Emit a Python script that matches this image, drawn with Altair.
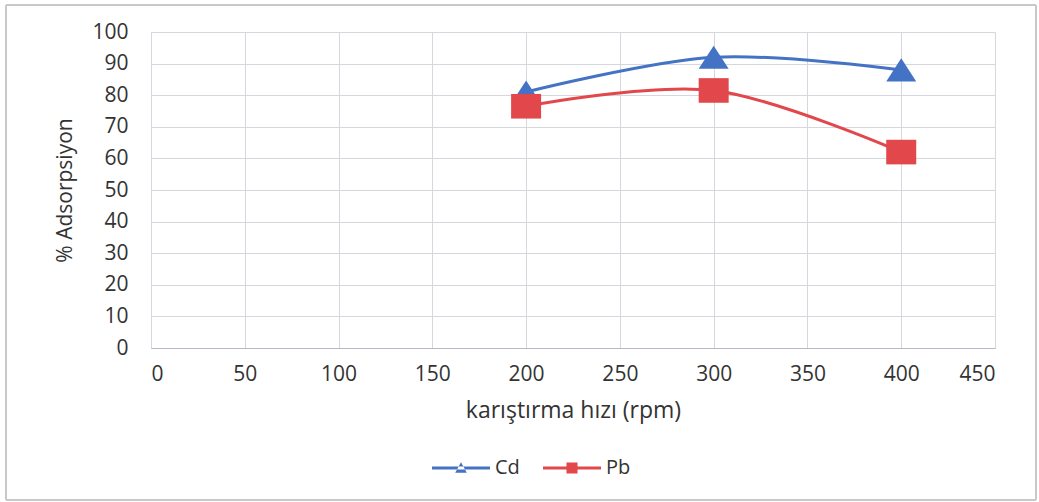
import altair as alt
import pandas as pd

speeds = [200, 300, 400]
cd_values = [81, 92, 88]
pb_values = [76.5, 81.5, 62]
series_names = ["Cd", "Pb"]
series_colors = ["#4472C4", "#E2474B"]

rows = []
for s, vals in zip(series_names, [cd_values, pb_values]):
    for x, v in zip(speeds, vals):
        rows.append({"speed": x, "value": v, "series": s})
df = pd.DataFrame(rows)

tri_path = "M-1,0.77L1,0.77L0,-0.77Z"
sq_path = "M-1,-0.82H1V0.82H-1Z"
leg_paths = {
    "Cd": "M-1,-0.05H1V0.05H-1Z M-0.2,0.16L0.2,0.16L0,-0.2Z",
    "Pb": "M-1,-0.05H1V0.05H-1Z M-0.19,-0.19H0.19V0.19H-0.19Z",
}
leg_x = {"Cd": 281, "Pb": 392}

FONT = "Open Sans"
TXT = "#333333"

xenc = alt.X("speed:Q", scale=alt.Scale(domain=[0, 450], nice=False),
             axis=alt.Axis(values=list(range(0, 451, 50)), title="karıştırma hızı (rpm)",
                           ticks=False, labelPadding=15, labelFontSize=21, labelColor=TXT,
                           titleFontSize=23, titleColor=TXT, titleFontWeight="normal",
                           titleX=422, titleY=62, titleBaseline="middle",
                           gridColor="#d6d6de", domainColor="#b8b8c4", labelOverlap=False))
yenc = alt.Y("value:Q", scale=alt.Scale(domain=[0, 100], nice=False),
             axis=alt.Axis(values=list(range(0, 101, 10)), title="% Adsorpsiyon",
                           ticks=False, labelPadding=23, labelFontSize=21, labelColor=TXT,
                           titleFontSize=21, titleColor=TXT, titleFontWeight="normal",
                           titleX=-86, titleY=158, titleBaseline="middle", titleAngle=-90,
                           gridColor="#d6d6de", domain=False, labelOverlap=False))

main_color = alt.Color("series:N", scale=alt.Scale(domain=series_names, range=series_colors), legend=None)

lines = alt.Chart(df).mark_line(interpolate="cardinal", strokeWidth=3).encode(
    x=xenc, y=yenc, color=main_color, detail="series:N")

points = alt.Chart(df).mark_point(filled=True, opacity=1, strokeWidth=1).encode(
    x=xenc, y=yenc,
    color=main_color,
    shape=alt.Shape("series:N", scale=alt.Scale(domain=series_names, range=[tri_path, sq_path]), legend=None),
    size=alt.value(900))

legend_layers = []
for s, c in zip(series_names, series_colors):
    lg = alt.Chart(df).transform_filter(alt.datum.series == s).mark_point(
        filled=True, opacity=0).encode(
        x=xenc, y=yenc,
        color=alt.Color("series:N", scale=alt.Scale(domain=[s], range=[c]),
                        legend=alt.Legend(title=None, orient="none", direction="horizontal",
                                          legendX=leg_x[s], legendY=407, symbolSize=3364,
                                          symbolType=leg_paths[s], symbolOpacity=1,
                                          symbolStrokeWidth=0, labelFontSize=20, labelColor=TXT,
                                          labelFont=FONT, labelOffset=5, padding=0)))
    legend_layers.append(lg)

frame = alt.Chart(df).mark_rect(fill=None, stroke="#c8c8c8", strokeWidth=1).encode(
    x=alt.value(-145), x2=alt.value(885), y=alt.value(-27), y2=alt.value(468))

chart = alt.layer(frame, lines, points, *legend_layers).resolve_scale(color="independent").properties(
    width=844, height=316,
    autosize=alt.AutoSizeParams(type="none"),
    padding={"left": 151, "top": 32, "right": 44, "bottom": 154},
    background="white",
).configure_view(stroke="#d6d6de").configure(font=FONT).configure_axis(labelFont=FONT, titleFont=FONT)

chart.save("out.html", embed_options={"renderer": "svg", "actions": False})
